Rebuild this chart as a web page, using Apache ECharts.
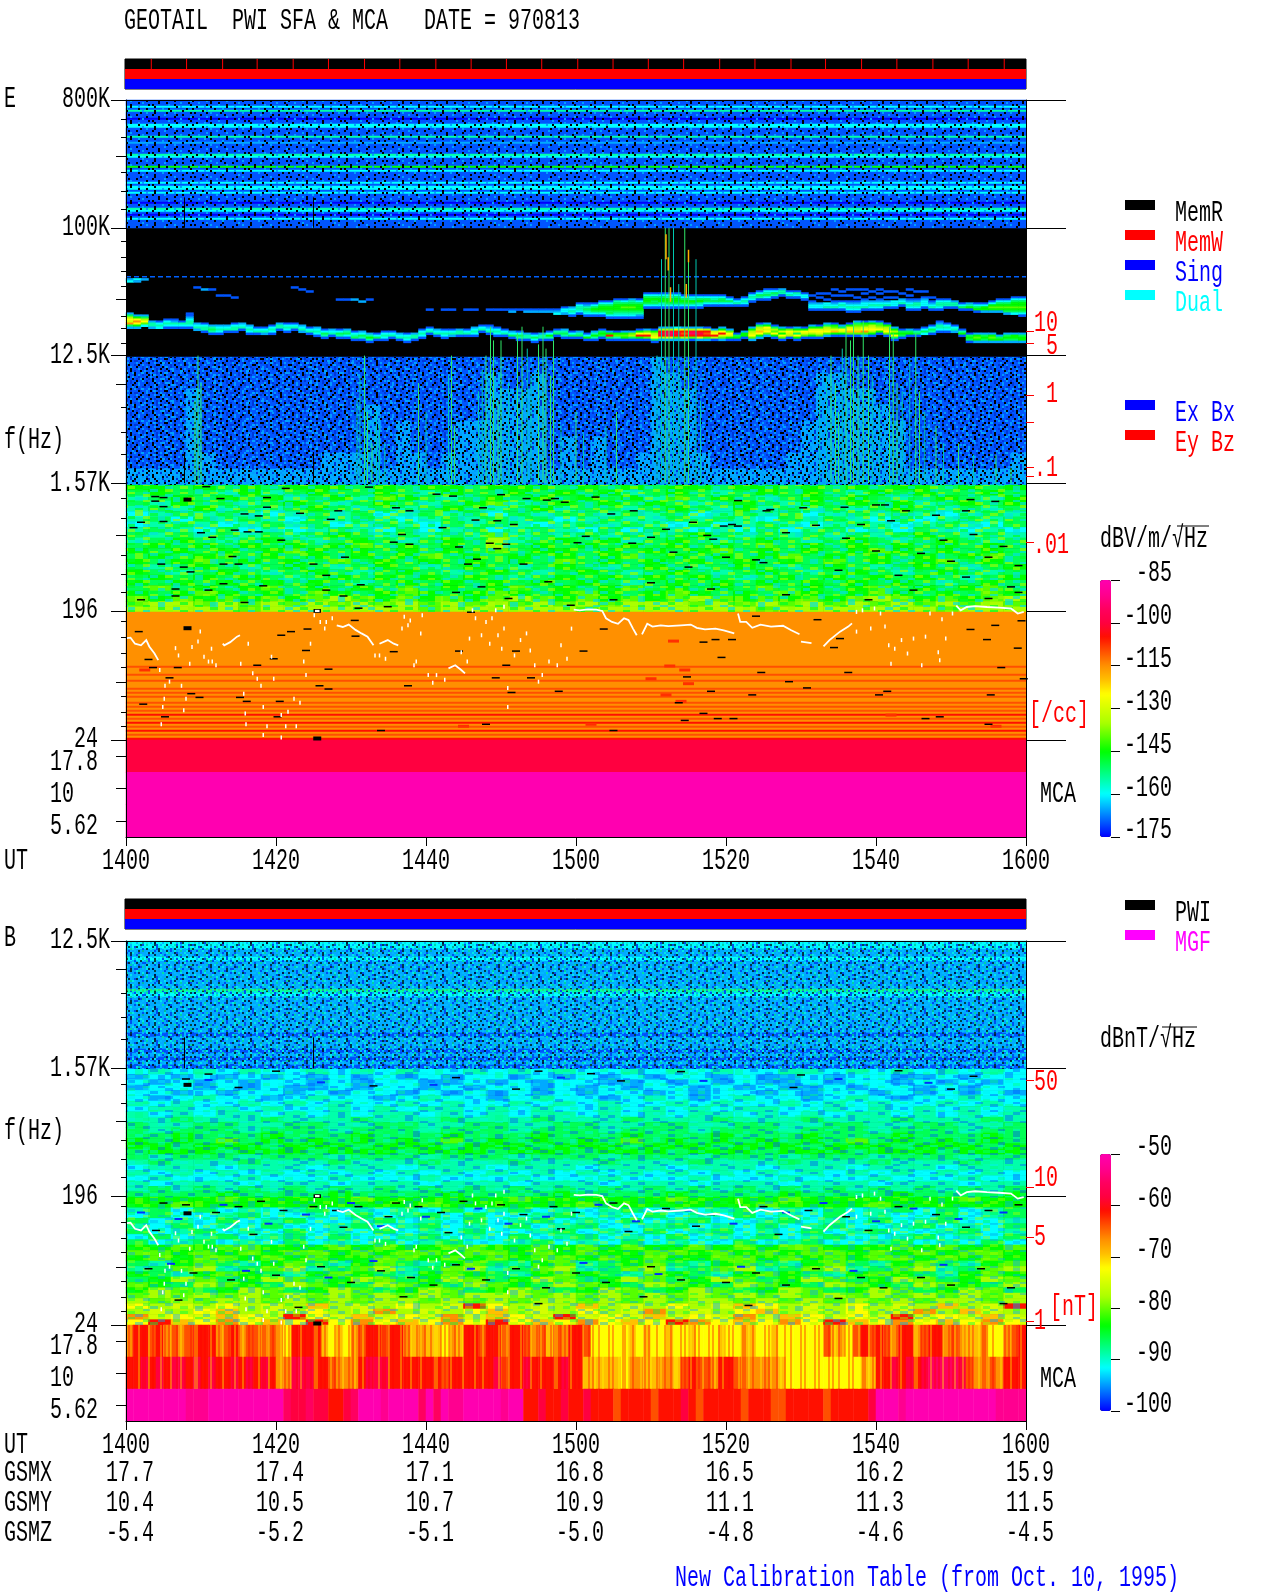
<!DOCTYPE html>
<html><head><meta charset="utf-8">
<script src="https://cdn.jsdelivr.net/npm/echarts@6/dist/echarts.min.js"></script>
<style>html,body{margin:0;padding:0;background:#fff}#c{width:1280px;height:1593px}</style>
</head><body><div id="c"></div>
<script>
// ---------- values ----------
const timeLabels = ['1400','1420','1440','1500','1520','1540','1600'];
const gsmX = ['17.7','17.4','17.1','16.8','16.5','16.2','15.9'];
const gsmY = ['10.4','10.5','10.7','10.9','11.1','11.3','11.5'];
const gsmZ = ['-5.4','-5.2','-5.1','-5.0','-4.8','-4.6','-4.5'];
const majorHz = [800000,100000,12500,1570,196,24];
const majorLabels = ['800K','100K','12.5K','1.57K','196','24'];
const minorHz = [589000,436000,247000,182000,135000,80500,62000,49000,38400,23800,19400,15300,5350,3600,2520,1220,888,488,359,266,165,127,98,79,49,38,30];
const midHz = [322000,31200,7900,667,61];
const mcaLabels = ['17.8','10','5.62'];
const densityTicksE = [18600,15200,6600,4250,2040,1750,597];
const densityTextE = [['10',322],['5',345],['1',393],['.1',467]];
const densityTicksB = [1285,227,101,25.4];
const barTicksE = [-175,-160,-145,-130,-115,-100,-85];
const barTicksB = [-100,-90,-80,-70,-60,-50];
const statusRows = ['MemR','MemW','Sing'];
const statusFull = [120,120,120];
const commandTicks = [3.5,8.2,13,17.6,22.4,27.1,31.9,36.6,41.4,46.1,50.8,55.5,60.3,65,69.7,74.4,79.2,83.9,88.7,93.3,98.1,102.8,107.6,112.3,117.1];
// palette: one colour per level 0..18 (level chars 0-9 a-i)
const palette = ['#0000ff','#0055ff','#00aaff','#00ffff','#00ffaa','#00ff55','#00ff00','#55ff00','#aaff00','#d4ff00','#ffff00','#ffc000','#ff9000','#ff5000','#ff1000','#ff0040','#ff0060','#ff0090','#ff00b0'];

// E: 800K-100K horizontal stripes, top to bottom
const stripeRowsE = ['1','1','1','3','1','4','1','1','1','0','1','1','3','3','1','1','1','1','4','1','1','2','1','1','1','1','1','4','3','1','1','1','1','6','1','3','1','1','1','1','1','3','1','3','3','1','3','1','1','1','1','0','1','1','4','3','1','0','1','3','1','1','1','1'];
// E: 100K-12.5K ridges, one entry per minute: [top row, levels downward] ('.' = no signal)
const lowerRidge = [[42,'258a9c52'],[43,'26aca62'],[43,'258a73'],[46,'2442'],[46,'1343'],[45,'13431'],[45,'12431'],[46,'1431'],[42,'11234431'],[47,'2342'],[47,'13441'],[48,'24541'],[48,'23431'],[48,'2341'],[47,'13441'],[47,'2341'],[48,'23431'],[49,'1341'],[49,'1342'],[48,'13431'],[47,'2441'],[47,'13431'],[47,'1341'],[48,'2342'],[49,'1341'],[49,'23431'],[50,'13541'],[50,'2341'],[50,'13541'],[50,'24531'],[51,'13451'],[51,'23541'],[52,'24641'],[52,'1351'],[51,'13431'],[51,'1341'],[52,'2341'],[52,'13431'],[52,'2441'],[50,'13431'],[49,'1341'],[50,'2341'],[50,'13431'],[50,'1342'],[50,'2441'],[50,'1341'],[49,'23431'],[48,'1341'],[48,'12341'],[49,'13431'],[50,'1341'],[51,'2351'],[51,'13541'],[52,'2441'],[52,'13531'],[52,'2441'],[51,'13641'],[50,'1451'],[50,'24541'],[51,'1351'],[51,'2451'],[52,'1361'],[51,'24641'],[50,'15651'],[51,'26e51'],[51,'16741'],[51,'26761'],[51,'27851'],[50,'16ae61'],[50,'27ae71'],[50,'1689a51'],[49,'28efe82'],[49,'28fgf92'],[49,'39efe72'],[49,'29ede82'],[49,'28fge71'],[49,'29efe92'],[49,'18ede72'],[50,'29ae81'],[49,'26ae972'],[50,'27a961'],[52,'1561'],[51,'2661'],[49,'2689a72'],[47,'1589ba62'],[47,'26a9a72'],[48,'1587a61'],[49,'2696a71'],[49,'17a981'],[49,'2695a61'],[49,'16a971'],[48,'269a861'],[48,'169a971'],[47,'2589a72'],[47,'1679b61'],[48,'25a961'],[47,'169ab71'],[46,'25789b71'],[46,'1679ac72'],[46,'2689a861'],[46,'1578a61'],[47,'1689a71'],[49,'2686a51'],[50,'15651'],[50,'2561'],[50,'1451'],[49,'1353'],[48,'13541'],[46,'124431'],[47,'13431'],[48,'1342'],[50,'1461'],[52,'15651'],[52,'26762'],[52,'25652'],[52,'26762'],[53,'2562'],[52,'25652'],[52,'26652'],[52,'25662']];
const upperRidge = [[40,'1',40],[40,'1',42],[40,'1',43],[40,'1',45],[40,'1',46],[40,'1',48],[40,'1',49],[40,'1',50],[40,'12',51],[40,'1',52],[40,'12',53],[40,'12',54],[40,'12',55],[40,'12',56],[40,'123',57],[39,'1332',58],[39,'23431',59],[37,'134431',60],[37,'1245431',61],[37,'1356531',62],[36,'13566531',63],[36,'135665531',64],[35,'1456665431',65],[35,'1356765431',66],[35,'2456765431',67],[35,'1356665421',68],[32,'13566531',69],[32,'13565531',70],[32,'13566431',71],[32,'13466531',72],[32,'13566531',73],[33,'1356531',74],[33,'1346531',75],[33,'1356431',76],[33,'135531',77],[33,'134531',78],[33,'135531',79],[34,'13531',80],[35,'1341',81],[34,'13431',82],[32,'13431',83],[31,'13541',84],[30,'134531',85],[30,'13541',86],[30,'2441',87],[31,'1341',88],[31,'1431',89],[32,'1331',90],[33,'1..12331',91],[32,'1.1..2331',92],[31,'.1..1.3341',93],[30,'1..1..12341',94],[30,'.1.1..13431',95],[30,'1..1..123431',96],[29,'.1...1.123431',97],[30,'1.1..123341',98],[30,'.1..1.23431',99],[30,'1.1..123431',100],[30,'.1..1.2341',101],[31,'1..1.3331',102],[31,'.1..2341',103],[30,'1..1.123431',104],[30,'.1...124431',105],[31,'1..123331',106],[34,'1.12341',107],[35,'134431',108],[35,'13441',109],[36,'2441',110],[37,'1351',111],[37,'2461',112],[37,'13561',113],[37,'13662',114],[36,'136762',115],[35,'1356762',116],[35,'13567652',117],[34,'135667653',118],[34,'1356676531',119]];
const emissionPatches = [[0,25,'2'],[0,26,'3'],[1,25,'3'],[1,26,'2'],[2,25,'2'],[10,30,'2'],[11,30,'1'],[9,29,'1'],[22,29,'1'],[23,30,'1'],[24,31,'1'],[28,35,'1'],[29,35,'1'],[30,35,'2'],[31,36,'2'],[32,35,'1'],[12,33,'1'],[13,33,'1'],[14,34,'1']];
const thinLineHz = 45100;
// E: 12.5K-1.57K haze, 8 rows x 60 columns
const hazeRowsE = [
'1111111111 1111111111 1111111111 1111121111 1111111111 1111111111',
'1111111111 1111111111 1111211211 1111122111 1111112211 1111111111',
'1111211111 1111111111 1111222211 1111122211 1111112222 1111111111',
'1111211111 1111112111 1111222211 1111122211 1111112222 2111111111',
'1111211111 1111112121 1122222211 1111122211 1111122222 2211111111',
'1111211111 1111112121 1122222212 1211122211 1111122222 2211111111',
'1111221111 1112222122 1222222212 1211222221 1111222222 2211111112',
'2222222222 2222222222 2222222222 2222222222 2222222222 2222222222'];
// streaks: [minute, top frequency Hz], all reach down to 1.57 kHz
const streaksGreen = [[9.2,6000],[9.6,12500],[10,8000],[31.8,12500],[32.2,5000],[32.8,3000],[39,8000],[43.4,12500],[43.8,4000],[48,12500],[48.6,20000],[49,16000],[49.6,6000],[50,16000],[52.2,18000],[52.8,20000],[55,15000],[55.6,20000],[56,14000],[56.6,9000],[57,16000],[60,5000],[65.4,5000],[71.9,100000],[72.4,100000],[74.5,100000],[75,60000],[94,12500],[94.6,8000],[95,5000],[96,20000],[96.6,16000],[97,22000],[97.6,12500],[98.3,22000],[99,12500],[101.8,20000],[102.3,18000],[102.8,8000],[105.3,18000],[105.8,7000],[108,4000],[111,3000],[116,2500],[118,2000]];
const streaksTeal = [[30.8,6000],[31.2,9000],[33.4,5000],[33.8,4000],[34.5,3000],[40,5000],[43,9000],[47,7000],[47.5,10000],[51,8000],[53.5,14000],[54,9000],[58,4000],[61,3500],[64,4000],[70.8,12500],[71.4,60000],[73,100000],[76,60000],[73.7,40000],[76.6,6000],[92.5,7000],[93.4,9000],[95.5,14000],[99.5,9000],[100.5,6000],[103.5,7000],[104.5,12000],[106.5,5000],[109,3000],[113,2500]];
const streaksHot = [[72,60000,90000],[72.3,50000,62000],[75,57000,70000],[72.6,30000,38000],[74.7,32000,40000]];
const gapLinesHz = [[7.8,1570,2600],[25,1570,2600]];
const gapLinesUpper = [[7.8,100000,164000],[25,100000,164000]];
// E: 1.57K-196 mottled block, 24 rows x 40 columns
const mottleRowsE = [
'6656565666565665666565656656656565665656','5655464565565465565656456545656546565565','4565656456476545656565647565456565456546','5465545654565456745656565456546565645656',
'4546454565454565456455456546454545654545','3454543454534545354554545345453454543454','4535454354543454545345445454354543534545','3454345453454354543454543534543454345435',
'4543534345435345345435354343534534354343','5454545456545454745454545654545454565454','4565456545654565845656456545654565456545','5656565656756565856565656565756565656565',
'6565656765656565756656565675656567656565','5656756565656756565656756565675656565675','6567565657565656565756565656565756567565','5456545654565456545654565456545654565456',
'6545654565456545654565456545654565456545','5656565456565656545656565654565656565456','6565656565456565656565456565656565654565','5756567565657565675656756565756567565675',
'6567656576567656765676567656576567656576','7676767678767676787676767876767678767678','7887878787878787878787888787878787878787','8888878888888788888878888888788888887888'];
// E: 196-24 orange block rows, top to bottom
const orangeRowsE = 'ccccccccccccccccccccccccc'+'ccdcccdccdcccd'+'cdcdccdcdcdc'+'ecdcecdcecdce';
const orangePatches = [[73,120],[72.5,80],[74.5,75],[70,65],[75,60],[72,50],[74,45],[2.5,75],[102,36],[116,30],[62,31],[45,30]];
const mcaRowsE = ['f','i','i'];
// black dropout dashes [minute, Hz]
const dropoutsUpper = [[10.7,1480],[21.3,1440],[32.4,1470],[3.9,1260],[5,1240],[12.6,1220],[18.8,1240],[3.9,1170],[5,1070],[15.8,950],[17.7,920],[23.2,960],[18.8,1060],[28.3,1000],[36,1050],[37.8,1000],[47.6,1050],[41.4,1310],[43.6,1270],[50,1300],[53.4,1220],[56.1,1190],[57.2,1220],[58.5,1150],[62.6,1250],[64.7,950],[2,830],[5,840],[46.6,860],[49.5,850],[51.7,800],[42.2,760],[67.7,1000],[1,760],[10,700],[11.5,650],[14.5,730],[16.2,710],[17.7,710],[20.7,620],[27.3,870],[36.8,680],[35.7,600],[37.8,580],[44.4,555],[48.5,590],[50.7,580],[60.2,595],[61.3,660],[67.5,590],[14.2,475],[15,420],[7.7,400],[4.7,420],[25,420],[29.2,470],[46.8,455],[49.5,540],[45.6,420],[53,420],[8.6,370],[13,420],[26.7,350],[47.4,290],[6.6,280],[11,275],[13,305],[18.3,295],[26.7,275],[29,250],[31.3,300],[34.9,210],[31,205],[44,265],[51,240],[56.3,315],[59.3,215],[65,235],[2,235],[6.6,250],[15.8,225],[81.6,1180],[112.6,1200],[115.9,1165],[101.2,1100],[85.9,1020],[85.4,1000],[90.3,1050],[75.6,830],[80.8,800],[79.7,780],[72,740],[77.5,670],[78.3,630],[81.6,780],[100,1100],[70,650],[95.8,1060],[104,1000],[108,930],[112,1000],[98,800],[102,850],[92,790],[88,700],[96,640],[109,620],[113,680],[117,560],[73,510],[80,470],[84,450],[100,520],[106,500],[110,440],[115,470],[119,410],[75,400],[85,430],[95,380],[103,350],[112,340],[118,290],[70,310],[78,280],[88,255],[99,235],[105,275],[115,240],[119,265]];
const dropoutsLower = [[1.7,140],[3,89],[3.6,78],[5.8,66],[6.9,78],[2.3,43],[5.2,35],[8.7,51],[9.8,48],[17.5,81],[15.2,48],[16.1,45],[20.7,132],[22,140],[24.2,146],[24,103],[25.8,58],[27,55],[19.7,90],[20.5,45],[20.2,35],[27,76],[30.5,168],[30.6,130],[35.7,101],[37.6,58],[34,28],[44.4,102],[49.3,66],[50.7,81],[51.4,52],[54,66],[57.7,53],[61,102],[63.7,146],[48,31],[65,28],[46,192],[52,102],[92.2,170],[95.2,125],[94.4,108],[84,180],[77,118],[78.6,123],[80.8,123],[79.4,92],[84.7,72],[88.4,62],[78,53],[83.5,50],[90.8,56],[101.5,53],[100.4,50],[96.3,72],[116.7,78],[114.8,123],[112.6,145],[115.9,155],[119.4,167],[118.9,107],[119.7,65],[115.3,50],[106.6,34],[108.5,35],[115,31],[77,37],[78.9,34],[81,34],[74.5,33],[73.7,44],[74.8,67]];
const dropoutBlobs = [[8.2,1200],[8.2,148],[25.5,24.6]];
const dropoutsBHigh = [[8,1320],[11,1430],[20,1500],[55,1500],[44,1350],[62,1440],[74,1490],[90,1410],[103,1510],[113,1380],[66,1280],[33,1180],[15,1150],[52,1120],[89,1150],[110,1120]];
const dropoutsBLow = [[5,175],[8,170],[12,150],[15,165],[18,180],[21,155],[25,165],[28,155],[31,165],[35,140],[36,175],[39,165],[42,150],[45,180],[50,170],[53,145],[57,165],[60,150],[65,175],[72,160],[78,145],[85,165],[91,155],[96,140],[103,165],[108,145],[115,155],[119,170],[3,60],[9,56],[14,50],[20,54],[26,62],[30,48],[34,58],[38,52],[41,46],[44,64],[48,50],[52,60],[56,44],[60,56],[64,48],[70,62],[74,50],[80,48],[84,56],[88,46],[92,60],[98,52],[101,44],[106,52],[110,46],[114,60],[118,44],[4,112],[17,105],[29,118],[43,108],[58,115],[67,110],[76,120],[87,105],[99,112],[112,118],[7,36],[23,32],[37,38],[55,34],[69,38],[83,33],[95,37],[117,34]];
const blueDashesB = [[2,150],[7,135],[13,170],[19,125],[24,145],[30,175],[34,120],[40,140],[47,160],[51,125],[56,140],[63,170],[68,130],[75,155],[81,125],[88,150],[93,175],[100,130],[105,160],[111,135],[117,150],[6,65],[16,58],[27,52],[33,68],[46,60],[61,66],[71,55],[82,62],[97,58],[109,64],[11,1300],[26,1250],[41,1200],[58,1350],[77,1280],[95,1320],[107,1240]];
// B: 12.5K-1.57K rows, top to bottom
const noiseRowsB = ['3','3','2','2','3','2','2','2','2','2','2','2','4','3','2','2','2','2','2','2','2','2','2','1','2','2','2','1','2','1','2','1'];
const noiseLineHz = 5630;
// B: 1.57K-196 block, 24 rows x 40 columns
const mottleRowsB = [
'3434343343434334343433434343344343434343','2323232323232323323232323323223233223233','3232323323233223232332232323223233232323','2332323223233232332323233232322323323233',
'3323233232332323232323323233232332323232','3234332343323433234332343234332343233433','4343343434334343343434334343343434334343','3443434334343443434334343434433434343434',
'4343443434344343434434343443434344343434','4454445444544454445444544454445444544454','5445544554455445544554455445544554455445','5455545554555455545554555455545554555455',
'5565556555655565556555655565556555655565','6565756565656575656565756565656575656565','6656665666566656665666566656665666566656','5666566656665666566656665666566656665666',
'5455545554555455545554555455545554555455','4544454445444544454445444544454445444544','3444344434443444344434443444344434443444','4343434343434343434343434343434343434343',
'3433343334333433343334333433343334333433','4344434443444344434443444344434443444344','4545454545454545454545454545454545454545','5555655556555565555655556555565555655556'];
// B: 196-24 block, 24 rows x 40 columns
const mottleLowB = [
'6666766666766666676666667666676666666766','6676666666666766666676666666766667666666','4535343453434353453434534345343534535345','3533453343534535334534353435343534335345',
'5343534533453435345343534533453435345334','4353435334534534353453345343534533453435','5345343534353435334534353453435345334534','3534534535334534353453435343534533453435',
'5345343534353453345343534335345334534353','6676776667676677667676766767677666767667','7767676776767767767676677676767767676776','6767767676677676767767676677676767767676',
'5467546754675467546745675467546754675467','4578457845784578457845784578457845784578','6546765467654676546765476546765467654676','5687568756875687568756875687568756875687',
'7658765876587658765876587658765876587658','6875687568756875687568756875687568756875','7878787878787878887878787878787878787878','8787887878788787878878787887878787878878',
'a898a898b898a89ea898b898a89ba898a898b89e','898ab898a89c898ab898a89c898ab898a89c8b98','c9a9ba9ea9b9a9c9ba9e9a9b9a9c9ba9a9e9a9b9','aebacabaeacabacaeabacabaecabacaebacabaca'];
// B: MCA, 3 rows x 120 one-minute columns
const mcaRowsB = [
'ceedecdcde'+'eecdecddcd'+'caeeeebaba'+'cdeedeecbc'+'bbacbeedee'+'ceedcdbdce'+'edaaaaabab'+'aabaabaaab'+'aabbaabaaa'+'aaadbcaded'+'edceecdeec'+'dcbbcaacde',
'eefefeffef'+'efeefefefe'+'ccfffeedcc'+'cefffeeeee'+'eedeeeeeef'+'deefeeeefe'+'ebbbbbaccb'+'bccbdeddce'+'edcccccbaa'+'aaaaaaaabb'+'eefefefggg'+'gfdccdceee',
'iiiiiiiihh'+'hiiiiiiiii'+'igffgffeef'+'giiihiiiig'+'igihhiiiii'+'hiieefeefe'+'efeeedeeee'+'deeefedeee'+'eedeeeddee'+'eeedeeeeef'+'iiihiiiiii'+'iiiiiihhhh'];
// electron-density trace: connected stretches [minute, Hz]
const traceSegments = [
[[0.1,126],[0.6,127],[1.2,115],[2,112],[2.7,122],[3.1,110],[3.8,98],[4.3,88]],
[[12.9,115],[13.1,112],[13.9,118],[14.8,129],[15.2,132]],
[[28.1,155],[28.9,151],[29.7,157],[30.6,144],[31.4,136],[32.2,129],[33,112]],
[[33.8,115],[34.9,122],[35.7,115],[36.3,112]],
[[43,77],[43.9,81],[44.7,75],[45.2,71]],
[[59.7,200],[60.5,198],[61.6,201],[62.7,200],[63.5,196],[64,174],[64.8,164],[65.6,159],[66.4,174],[67,169],[67.6,147],[68.1,132]],
[[68.8,134],[69.5,159],[70.2,152],[71.3,155],[72.3,153],[74,155],[75.3,157],[76.1,149],[77.2,145],[78.6,147],[79.7,143],[81.1,136]],
[[81.6,188],[81.9,164],[82.7,164],[83.5,149],[84.6,157],[86,152],[87.6,154],[88.7,143],[89.8,134]],
[[90,119],[91.4,116]],
[[93,110],[93.8,122],[95.2,140],[96.3,152],[96.8,160]],
[[110.7,214],[111.3,198],[112.1,209],[113.2,212],[114.8,209],[116.4,207],[118,204],[118.9,188],[119.7,193]]];
const traceDots = [[4.5,75],[5.2,58],[5.8,62],[5.1,47],[4.9,41],[4.7,31],[6.6,107],[7,95],[7.4,58],[8,47],[7.7,39],[8.5,83],[8.8,109],[9.6,119],[9.9,140],[10.4,93],[11,86],[11.5,86],[11.4,106],[12,81],[16.3,115],[15.3,83],[16.9,71],[17.5,65],[18,58],[15.7,51],[15.9,37],[16,31],[18.3,41],[18.8,30],[18.3,26],[19.4,93],[19.7,65],[20.7,36],[21.3,30],[20.7,25],[22.7,30],[21.6,38],[22.4,47],[23.2,44],[23.7,86],[24,69],[24.6,115],[25.1,183],[25.9,164],[26.5,147],[26.7,164],[27.5,174],[33.2,95],[33.8,95],[34.6,90],[36.8,147],[37.1,178],[37.6,155],[37.9,168],[39.5,183],[39.3,136],[38.7,86],[38.4,81],[40.3,69],[41.4,69],[40.9,61],[42.5,64],[45.8,125],[45.5,86],[44.7,100],[46.2,198],[46.6,174],[48,164],[48.8,174],[49.3,198],[50.4,210],[47.4,132],[48.5,115],[49.6,132],[50.4,147],[50.1,106],[50.9,56],[50.9,41],[51.8,95],[52.6,122],[53.4,136],[53.9,103],[54.5,81],[55,62],[55.5,69],[56.4,86],[57.5,81],[58,112],[58.8,90],[59.4,147],[97.4,193],[98.2,198],[99.8,204],[100.6,188],[97.4,140],[99.3,147],[101.2,152],[101.7,112],[102.5,106],[103.4,122],[104.2,98],[106.1,81],[105,125],[106.6,129],[108.3,100],[109.3,125],[107.2,188],[108.8,171],[110.2,188],[102,83],[108.5,88]];
// textures (style only, one character per texture cell)
const tileNoise = [
'kb..a.k..bb.k.a...kb.a..k.b..ak...b.k..a.bk..b.a','..k.bb..a.k...kb..a.k..bb..k.a.b..k.a...kb..a.k.','a.b..k..bk.a..b..k.a.b.k..a..bk.a...bk.k..a.b...k','.k..a.k.b...k.ka.b...kb..a.k...b..kk.a.b...k.a.bb',
'b..k...a.b.k.a...k.bb..k.a..b.k.a..b...k.a.bk...a','..a.bk..k..a.b.kb...a.k..bk..a..k.b.ka...b..k.a..','kk..b.a...bk..a.k..b.k.a..b...kk.a...b.k..a.kb..b','.a.k..b.k.a..k.b.a..k..b.a.k.b...k.a.b..k.b...a.k',
'b..a..kk.b..a..b.k...a.b.k..a.b.k..k.a..b.k.a.b..','.k.b.a...k.bk..a.k.b..k.a...k.ba..b.k.a...bk..k.a','a..k.b.k.a...b.k..ak...b.k.a..b.k.a..bk...a.k.b..','..b..a.kb..k.a..b..k.a.b..k.kb..a.k..b.a.k...a.bk',
'k.a.k...b.a.k..bk.a..b...k.a..k.b..a.k..b.k.a...b','.b...k.a..k.b.a...k.b.ak..b.k...a.b.k.a...bk.a.k.','a.kb..k.b..a.k.k.b..k..a.b..ka...k.b..k.a.b...k.a','..k.a.b...kb..a..b.k.a...kb..k.a.b..a.k.b..k.a...'];
const tileSpecks = [
'.k.....k.a....k.......k..a...k.....k...a.......k','....k.......a...k...k.......k.....a.....k..k....','k......a.k.......a.......k.....k.......k.......a','...a.....k...k.......k.a.......k...k......a...k.',
'.......k.....a...k........k.k.......a..k.......k.','..k...a..k.......k...a.......k..........k.a.....','k..........k...a.....k...k.......a..k........k..','.....k.a.......k.......a.....k.......k.....k....'];
const tileMottle = [
'1.2..3.1.2.3..1..2.3.1..2.3.1.2..1.3.2..','.3.1.2..1.3.2.3.1..2.1.3..2.1.3.2..1.3.1','2..3.1.2.1..3.2..1.3.2.1.3..2.1..3.2..1.','.1.2..3.3.1.2..3.2.1..3.2.1.3..2.1.3.2.1',
'3.2.1.2..1.3.1.2...3.1.2..3.1.2..1.2.3..','.1..3.1.2.3..2.1.3.2..1.3..2.3.1.3..1.2.','2.3.1..3.1.2.3.1..2.1.3.2.1..2.3.1.2..3.','.1.2.3.2..3.1..2.3.1..2.3.1.3.1..2.3.1.2',
'1..3.1.2.1.2.3.1.2.3..1.2..3.2.1.3..2.1.','.2.1..3..2.3.1..3.1..2.1.3.1..2.3.1.2..3','3.1.2.1.3.1..2.1.2.3.3.1..2.3.1..2.3.1..','.2.3.1.2..3.1.3.1..2.1.2.3.1.2.1.3..2.1.',
'1.3..2.1.2.3.2..3.1.2..3.1..3.2.1.2.3.1.','.2.1.3.3.1..1.2.1.2.3.1..2.3.1.3..1.2..3','3..2.1.2.3.2.3.1..3.1.2.1..2.1.2.3.3.1..','.1.3.1..2.1.3.1.2.3.2.1.3.3..2.1.1.2.3.1'];
const tileBars = ['.y..r.r..y.rr.y.r...y.r.ry..r.y.r..r.yy.r.r..y.r.r.y..r.ry.r'];
const noiseDark = {k:'#000000',b:'#0038d8',a:'#0098ff'};
const noiseLight = {k:'#00b8ff',b:'#0050f0',a:'#00e8e8'};
const specksDark = {a:'#00a0ff'};
const specksLight = {k:'#000000',a:'#00e080'};
const mottleE = {1:'#00e4d8',2:'#00ff28',3:'#90ff00'};
const mottleB1 = {1:'#0060ff',2:'#00f0f0',3:'#00ff80'};
const mottleB2 = {1:'#00b0f0',2:'#00ff40',3:'#a0ff00'};
const barsB = {y:'#ffff00',r:'#ff0000'};
const specksBand = {k:'#000000',a:'#00a0ff'};

// ---------- layout ----------
const X0 = 126, PW = 900;
const E = {bars:59, top:100, split1:228, split2:357, split3:485, split4:612, mid:740, bottom:837, barTop:580};
const B = {bars:899, top:941, split3:1069, split4:1197, mid:1325, bottom:1421, barTop:1154};
const grid=[], xAxis=[], yAxis=[], series=[], hmE=[], hmB=[];
const none = {show:false};
const lvl = c => parseInt(c, 19);
const dbE = i => -175 + 5*i, dbB = i => -100 + i*50/18;
const idx = n => Array.from({length:n},(_, i)=>String(i));
function addHeat(rows, top, height, dec, bucket, bg){
  const clean = rows.map(r=>r.replace(/ /g,''));
  const nc = clean[0].length, data=[];
  clean.forEach((r,ry)=>{ for(let c=0;c<nc;c++){ if(r[c] && r[c]!=='.') data.push([c,ry,dec(lvl(r[c]))]); } });
  return addHeatData(data, nc, rows.length, top, height, bucket, bg);
}
function addHeatData(data,nc,nr,top,height,bucket,bg){
  const g=grid.length;
  grid.push({left:X0,top,width:PW,height,show:true,backgroundColor:bg||'#000',borderWidth:0});
  const xi=xAxis.length, yi=yAxis.length;
  xAxis.push({type:'category',gridIndex:g,data:idx(nc),show:false});
  yAxis.push({type:'category',gridIndex:g,data:idx(nr),inverse:true,show:false});
  bucket.push(series.length);
  series.push({type:'heatmap',xAxisIndex:xi,yAxisIndex:yi,data,silent:true,z:2,progressive:0,animation:false});
  return {g,xi,yi};
}
// E heat bands
addHeat(stripeRowsE, E.top, E.split1-E.top, dbE, hmE, '#000');
const emission=[];
const pushCol=(c,top,s)=>[...s].forEach((ch,k)=>{ if(ch!=='.') emission.push([c,top+k,dbE(lvl(ch))]); });
lowerRidge.forEach((d,c)=>pushCol(c,d[0],d[1]));
upperRidge.forEach(d=>pushCol(d[2],d[0],d[1]));
emissionPatches.forEach(d=>pushCol(d[0],d[1],d[2]));
addHeatData(emission,120,64,E.split1,E.split2-E.split1,hmE,'#000');
addHeat(hazeRowsE, E.split2, E.split3-E.split2, dbE, hmE);
addHeat(mottleRowsE, E.split3, E.split4-E.split3, dbE, hmE);
addHeat([...orangeRowsE], E.split4, E.mid-E.split4, dbE, hmE);
// B heat bands
addHeat(noiseRowsB, B.top, B.split3-B.top, dbB, hmB);
addHeat(mottleRowsB, B.split3, B.split4-B.split3, dbB, hmB);
addHeat(mottleLowB, B.split4, B.mid-B.split4, dbB, hmB);

function addOverlay(P, fMax, dTicks){
  const g=grid.length;
  grid.push({left:X0,top:P.top,width:PW,height:P.mid-P.top,z:6});
  const xi=xAxis.length;
  xAxis.push({type:'value',gridIndex:g,min:0,max:120,position:'top',axisLine:{show:true,lineStyle:{color:'#000',width:1}},axisTick:none,axisLabel:none,splitLine:none,z:6});
  const y0=yAxis.length;
  const ly=(opt)=>Object.assign({type:'log',logBase:2,gridIndex:g,min:24,max:fMax,splitLine:none,axisLabel:none,z:6,axisLine:none},opt);
  const inR=a=>a.filter(v=>v>=24&&v<=fMax);
  const tick=(vals,len,color)=>({show:true,length:len,lineStyle:{color:color||'#000',width:1},customValues:inR(vals)});
  yAxis.push(ly({position:'left',axisLine:{show:true,lineStyle:{color:'#000'}},axisTick:tick(majorHz,15)}));
  yAxis.push(ly({position:'left',axisTick:tick(minorHz,5)}));
  yAxis.push(ly({position:'left',axisTick:tick(midHz,10)}));
  yAxis.push(ly({position:'right',axisLine:{show:true,lineStyle:{color:'#000'}},axisTick:tick(majorHz,40)}));
  yAxis.push(ly({position:'right',axisTick:tick(dTicks,8,'#ff0000')}));
  return {g,xi,y0};
}
const ovE=addOverlay(E,800000,densityTicksE);
const ovB=addOverlay(B,12500,densityTicksB);

function addMca(P,rows,bucket,dec){
  const g=grid.length;
  grid.push({left:X0,top:P.mid,width:PW,height:P.bottom-P.mid,z:6});
  const cx=xAxis.length, vx=cx+1, yi=yAxis.length;
  const nc=rows[0].length, data=[];
  rows.forEach((r,ry)=>{for(let c=0;c<nc;c++) data.push([c,ry,dec(lvl(r[c]))]);});
  xAxis.push({type:'category',gridIndex:g,data:idx(nc),show:false});
  xAxis.push({type:'value',gridIndex:g,min:0,max:120,interval:20,position:'bottom',axisLine:{show:true,lineStyle:{color:'#000'}},axisTick:{show:true,length:9,lineStyle:{color:'#000'}},axisLabel:none,splitLine:none,z:6});
  yAxis.push({type:'category',gridIndex:g,data:mcaLabels,inverse:true,position:'left',axisLine:{show:true,lineStyle:{color:'#000'}},axisTick:{show:true,length:10,alignWithLabel:true,lineStyle:{color:'#000'}},axisLabel:none,z:6});
  yAxis.push({type:'value',gridIndex:g,min:0,max:1,position:'right',axisLine:{show:true,lineStyle:{color:'#000'}},axisTick:none,axisLabel:none,splitLine:none,z:6});
  bucket.push(series.length);
  series.push({type:'heatmap',xAxisIndex:cx,yAxisIndex:yi,data,silent:true,z:2,progressive:0});
  return {g,cx,vx,yi};
}
const mE=addMca(E,mcaRowsE,hmE,dbE);
const mB=addMca(B,mcaRowsB,hmB,dbB);

// marks on the frequency axes
function marks(ov,isE){
  const ax={coordinateSystem:'cartesian2d',xAxisIndex:ov.xi,yAxisIndex:ov.y0,silent:true,animation:false};
  const seg=(list,color,width,z,type)=>series.push(Object.assign({},ax,{type:'lines',polyline:true,data:list.map(c=>({coords:c})),lineStyle:{color,width,opacity:1,type:type||'solid'},z}));
  const dots=(data,w,h,color,z,border)=>series.push(Object.assign({},ax,{type:'scatter',data,symbol:'rect',symbolSize:[w,h],itemStyle:{color,opacity:1,borderColor:border||color,borderWidth:border?1:0},z}));
  if(isE){
    seg(streaksTeal.map(d=>[[d[0],1570],[d[0],d[1]]]),'#00c8b0',1,4);
    seg(streaksGreen.map(d=>[[d[0],1570],[d[0],d[1]]]),'#30e868',1,4);
    seg(streaksHot.map(d=>[[d[0],d[1]],[d[0],d[2]]]),'#ffb000',1.5,4);
    seg([[[0,thinLineHz],[120,thinLineHz]]],'#0060ff',1.5,3,[5,3]);
    seg(gapLinesUpper.map(d=>[[d[0],d[1]],[d[0],d[2]]]),'#000',1,5);
    dots(orangePatches,11,3,'#ff3000',3);
    dots(dropoutsUpper,8,1.5,'#000',5);
    dots(dropoutsLower,8,1.5,'#000',5);
  } else {
    seg([[[0,noiseLineHz],[120,noiseLineHz]]],'#30e060',1.5,4,[2,2]);
    dots(blueDashesB,8,2,'#0030ff',4);
    dots(dropoutsBHigh,8,1.5,'#000',5);
    dots(dropoutsBLow,8,1.5,'#000',5);
  }
  seg(gapLinesHz.map(d=>[[d[0],d[1]],[d[0],d[2]]]),'#000',1,5);
  dots(dropoutBlobs,8,4,'#000',5);
  dots([[25.5,196]],6,3,'#fff',7,'#000');
  seg(traceSegments,'#ffffff',1.8,6);
  dots(traceDots,1.5,4,'#fff',6);
}
marks(ovE,true); marks(ovB,false);

// status bars
function addStatus(P,ticks){
  const g=grid.length;
  grid.push({left:X0-1,top:P.bars,width:PW+1,height:30,show:true,borderColor:'#000',borderWidth:1,backgroundColor:'#fff'});
  const xi=xAxis.length, yi=yAxis.length;
  xAxis.push({type:'value',gridIndex:g,min:0,max:120,show:false});
  yAxis.push({type:'category',gridIndex:g,data:statusRows,inverse:true,show:false});
  const colors=['#000','#ff0000','#0000ff'];
  series.push({type:'bar',xAxisIndex:xi,yAxisIndex:yi,data:statusFull.map((v,i)=>({value:v,itemStyle:{color:colors[i]}})),barWidth:'100%',silent:true,animation:false});
  if(ticks) series.push({type:'scatter',xAxisIndex:xi,yAxisIndex:yi,data:ticks.map(t=>[t,'MemR']),symbol:'rect',symbolSize:[1,10],itemStyle:{color:'#ff0000',opacity:1},silent:true,z:5});
}
addStatus(E,commandTicks); addStatus(B,null);

// colour-bar tick axes
function addBarAxis(top,ticks){
  const g=grid.length;
  grid.push({left:1111,top,width:61,height:257});
  xAxis.push({type:'value',gridIndex:g,min:0,max:1,show:false});
  const yi=yAxis.length;
  yAxis.push({type:'value',gridIndex:g,min:ticks[0],max:ticks[ticks.length-1],position:'left',axisLine:none,splitLine:none,axisLabel:none,axisTick:{show:true,inside:true,length:9,lineStyle:{color:'#000'},customValues:ticks}});
  return yi;
}
const barE=addBarAxis(E.barTop,barTicksE), barB=addBarAxis(B.barTop,barTicksB);

const vm=(top,min,max,seriesIndex)=>({type:'continuous',min,max,seriesIndex,left:1100,top,itemWidth:11,itemHeight:257,padding:0,calculable:false,hoverLink:false,realtime:false,inRange:{color:palette},outOfRange:{color:'#000'},textStyle:{fontSize:1,color:'transparent'}});

const chart=echarts.init(document.getElementById('c'),null,{renderer:'canvas',width:1280,height:1593});
chart.setOption({animation:false,backgroundColor:'#fff',grid,xAxis,yAxis,series,visualMap:[vm(E.barTop,-175,-85,hmE),vm(B.barTop,-100,-50,hmB)]});

// ---------- texture + text ----------
function tile(rows,colors,cw,ch,alpha){
  const cv=document.createElement('canvas');
  cv.width=Math.round(rows[0].length*cw); cv.height=Math.round(rows.length*ch);
  const c=cv.getContext('2d'); c.globalAlpha=alpha;
  rows.forEach((r,y)=>[...r].forEach((k,x)=>{ if(colors[k]){c.fillStyle=colors[k];c.fillRect(Math.round(x*cw),Math.round(y*ch),Math.round((x+1)*cw)-Math.round(x*cw),Math.round((y+1)*ch)-Math.round(y*ch));} }));
  return cv;
}
const els=[];
const tex=(cv,top,h)=>els.push({type:'rect',shape:{x:X0,y:top,width:PW,height:h},style:{fill:{image:cv,repeat:'repeat'}},z:3,silent:true});
tex(tile(tileSpecks,specksBand,2,2,1),E.top,E.split1-E.top);
tex(tile(tileNoise,noiseDark,2,2,1),E.split2,E.split3-E.split2);
tex(tile(tileSpecks,specksDark,3,2,1),E.split2,E.split3-E.split2);
tex(tile(tileNoise,noiseLight,2,2,1),B.top,B.split3-B.top);
tex(tile(tileSpecks,specksLight,2,2,.7),B.top,B.split3-B.top);
tex(tile(tileMottle,mottleE,7.5,2.67,.7),E.split3,E.split4-E.split3);
tex(tile(tileMottle,mottleB1,7.5,2.67,.45),B.split3,B.split4-B.split3);
tex(tile(tileMottle,mottleB2,7.5,2.67,.45),B.split4,B.mid-B.split4);
tex(tile(tileBars,barsB,2,4,.35),B.mid,64);
const MONO='20px "Liberation Mono"';
function T(text,x,y,fill,align){
  els.push({type:'text',x,y:y+1.5,scaleX:1,scaleY:1.5,z:20,silent:true,style:{text,font:MONO,fill:fill||'#000',textAlign:align||'left',textVerticalAlign:'middle',align:align||'left',verticalAlign:'middle'}});
}
const px=(ax,v)=>chart.convertToPixel(ax,v);
function freqLabels(ov,fMax){
  majorHz.forEach((f,i)=>{ if(f<=fMax){ const s=majorLabels[i]; T(s, /K/.test(s)?110:98, px({yAxisIndex:ov.y0},f)-2,'#000','right'); }});
}
freqLabels(ovE,800000); freqLabels(ovB,12500);
[mE,mB].forEach(m=>mcaLabels.forEach(s=>T(s,50,px({yAxisIndex:m.yi},s)+4)));
[mE,mB].forEach(m=>timeLabels.forEach((s,i)=>{const x=px({xAxisIndex:m.vx},i*20);T(s,x,m===mE?860:1444,'#000','center');}));
[[gsmX,1472,'GSMX'],[gsmY,1502,'GSMY'],[gsmZ,1532,'GSMZ']].forEach(([arr,y,name])=>{T(name,4,y);arr.forEach((s,i)=>T(s,px({xAxisIndex:mB.vx},i*20)-20,y));});
T('UT',4,860);T('UT',4,1444);
T('GEOTAIL  PWI SFA & MCA   DATE = 970813',124,20);
T('E',4,98);T('B',4,937);T('f(Hz)',4,439);T('f(Hz)',4,1130);
T('MCA',1040,793);T('MCA',1040,1378);
T('New Calibration Table (from Oct. 10, 1995)',675,1577,'#0000ff');
densityTextE.forEach(d=>T(d[0],1058,d[1],'#ff0000','right'));
T('.01',1069,544,'#ff0000','right');
T('[/cc]',1029,713,'#ff0000');
T('50',1058,1081,'#ff0000','right');T('10',1058,1177,'#ff0000','right');T('5',1046,1236,'#ff0000','right');T('1',1046,1320,'#ff0000','right');
T('[nT]',1050,1306,'#ff0000');
barTicksE.forEach(v=>T(String(v),1172,px({yAxisIndex:barE},v)-8,'#000','right'));
barTicksB.forEach(v=>T(String(v),1172,px({yAxisIndex:barB},v)-8,'#000','right'));
T('dBV/m/√Hz',1100,538);T('dBnT/√Hz',1100,1038);
els.push({type:'line',shape:{x1:1177,y1:526,x2:1209,y2:526},style:{stroke:'#000',lineWidth:1},z:20,silent:true});
els.push({type:'line',shape:{x1:1162,y1:1027,x2:1197,y2:1027},style:{stroke:'#000',lineWidth:1},z:20,silent:true});
const legend=[['MemR','#000',200],['MemW','#ff0000',230],['Sing','#0000ff',260],['Dual','#00ffff',290],['Ex Bx','#0000ff',400],['Ey Bz','#ff0000',430],['PWI','#000',900],['MGF','#ff00ff',930]];
legend.forEach(([s,c,y])=>{els.push({type:'rect',shape:{x:1125,y,width:30,height:10},style:{fill:c},z:20,silent:true});T(s,1175,y+12,c);});
chart.setOption({graphic:{elements:els}});
</script></body></html>
